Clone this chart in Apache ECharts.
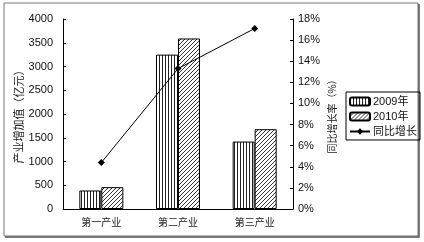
<!DOCTYPE html>
<html><head><meta charset="utf-8">
<script src="https://cdn.jsdelivr.net/npm/echarts@6/dist/echarts.min.js"></script>
<style>html,body{margin:0;padding:0;background:#fff;}#c{width:424px;height:242px;}</style>
</head><body><div id="c"></div>
<script>
var categories = ['第一产业', '第二产业', '第三产业'];
var values2009 = [390, 3250, 1420];
var values2010 = [460, 3590, 1680];
var growthRate = [4.4, 13.3, 17.1];
var leftTicks = [0, 500, 1000, 1500, 2000, 2500, 3000, 3500, 4000];

function vPattern() {
  var c = document.createElement('canvas'); c.width = 3; c.height = 3;
  var g = c.getContext('2d');
  g.fillStyle = '#fff'; g.fillRect(0, 0, 3, 3);
  g.fillStyle = '#222'; g.fillRect(0, 0, 1, 3);
  return c;
}
function dPattern() {
  var c = document.createElement('canvas'); c.width = 4; c.height = 4;
  var g = c.getContext('2d');
  g.fillStyle = '#fff'; g.fillRect(0, 0, 4, 4);
  g.strokeStyle = '#333'; g.lineWidth = 1;
  g.beginPath();
  g.moveTo(0, 4); g.lineTo(4, 0);
  g.moveTo(-1, 1); g.lineTo(1, -1);
  g.moveTo(3, 5); g.lineTo(5, 3);
  g.stroke();
  return c;
}

var chart = echarts.init(document.getElementById('c'), null, {renderer: 'canvas'});
var txt = {color: '#111', fontFamily: 'Liberation Sans, Arial, Noto Sans CJK SC', fontSize: 11};
chart.setOption({
  animation: false,
  backgroundColor: '#fff',
  graphic: [{type: 'rect', shape: {x: 4, y: 3, width: 414, height: 233}, style: {fill: 'none', stroke: '#777', lineWidth: 1}, z: -1},
            {type: 'polyline', shape: {points: [[419, 4], [419, 237], [5, 237]]}, style: {stroke: '#555', lineWidth: 1.5, fill: 'none'}, z: -1}],
  grid: {left: 63, right: 131, top: 19, bottom: 33},
  legend: {
    orient: 'vertical', left: 346, top: 92,
    borderColor: '#000', borderWidth: 1, padding: [4, 3, 3, 3], itemGap: 4,
    itemWidth: 20, itemHeight: 8,
    textStyle: {color: '#111', fontFamily: 'Liberation Sans, Noto Sans CJK SC', fontSize: 11, padding: [0, 0, 0, -2]},
    data: ['2009年', '2010年', '同比增长']
  },
  xAxis: {
    type: 'category', data: categories,
    axisLine: {lineStyle: {color: '#000'}},
    axisTick: {inside: true, length: 3, lineStyle: {color: '#000'}},
    axisLabel: {margin: 8, fontFamily: 'Noto Sans CJK SC', fontSize: 10, color: '#222'}
  },
  yAxis: [{
    type: 'value', min: 0, max: 4000, interval: 500,
    name: '产业增加值（亿元）', nameLocation: 'middle', nameGap: 39, nameRotate: 90, nameMoveOverlap: false,
    nameTextStyle: {fontFamily: 'Noto Sans CJK SC', fontSize: 11, color: '#222'},
    axisLine: {show: true, lineStyle: {color: '#000'}},
    axisTick: {show: true, inside: true, length: 3, lineStyle: {color: '#000'}},
    splitLine: {show: false},
    axisLabel: Object.assign({}, txt, {margin: 10, formatter: function (v) { return leftTicks.indexOf(v) >= 0 ? String(v) : ''; }})
  }, {
    type: 'value', min: 0, max: 18, interval: 2, position: 'right',
    name: '同比增长率（%）', nameLocation: 'middle', nameGap: 34, nameRotate: 90, nameMoveOverlap: false,
    nameTextStyle: {fontFamily: 'Noto Sans CJK SC', fontSize: 10, color: '#222'},
    axisLine: {show: true, lineStyle: {color: '#000'}},
    axisTick: {show: true, inside: true, length: 3, lineStyle: {color: '#000'}},
    splitLine: {show: false},
    axisLabel: Object.assign({}, txt, {margin: 5, formatter: '{value}%'})
  }],
  series: [{
    name: '2009年', type: 'bar', data: values2009, barWidth: 22, barGap: '0%',
    itemStyle: {color: {image: vPattern(), repeat: 'repeat'}, borderColor: '#000', borderWidth: 1}
  }, {
    name: '2010年', type: 'bar', data: values2010, barWidth: 22,
    itemStyle: {color: {image: dPattern(), repeat: 'repeat'}, borderColor: '#000', borderWidth: 1}
  }, {
    name: '同比增长', type: 'line', yAxisIndex: 1, data: growthRate,
    symbol: 'diamond', symbolSize: 7,
    lineStyle: {color: '#000', width: 1}, itemStyle: {color: '#000'}
  }]
});
</script></body></html>
